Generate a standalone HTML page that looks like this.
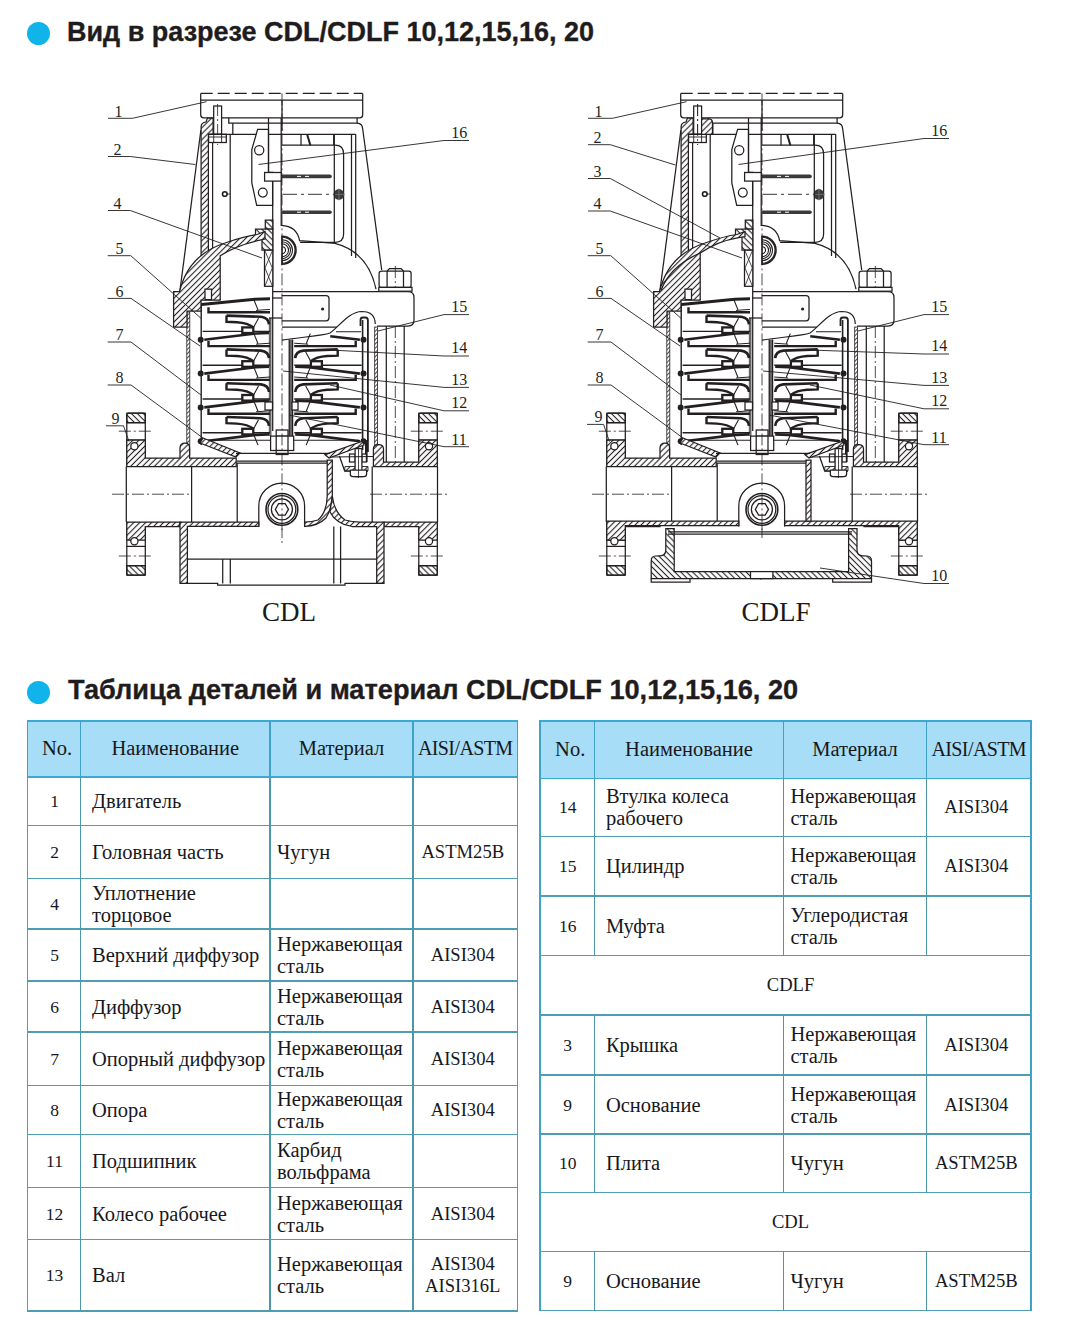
<!DOCTYPE html>
<html><head><meta charset="utf-8">
<style>
html,body{margin:0;padding:0}
body{width:1070px;height:1326px;background:#fff;position:relative;overflow:hidden}
.h{position:absolute;font-family:"Liberation Sans",sans-serif;font-weight:bold;font-size:28.5px;line-height:30px;color:#1f1c1d;white-space:nowrap;transform-origin:0 0;-webkit-text-stroke:0.35px #1f1c1d}
.dot{position:absolute;width:23.5px;height:23.5px;border-radius:50%;background:#10b3ea}
.hd{position:absolute;background:#a7ddf7}
.hl{position:absolute;height:1.4px;background:#4f9db5}
.hl.hb{height:1.7px;background:#3ba9d3}
.vl{position:absolute;width:1.25px;background:#4d97ad}
.vl.ob{background:#3fa3c8}
.c{position:absolute;display:flex;align-items:center;font-family:"Liberation Serif",serif;font-size:20.5px;line-height:22px;color:#17181c;box-sizing:border-box;white-space:nowrap}
.th{justify-content:center;padding-bottom:1.6px}
.th.aisi{letter-spacing:-0.6px;font-size:20px;padding-right:0}
.th.no{padding-left:6px}
.num{justify-content:center;font-size:17.5px;padding-left:1px}
.name{padding-left:11.5px}
.mat{padding-left:7px}
.aisi{justify-content:center;text-align:center;font-size:18.6px;padding-right:5px}
.span{justify-content:center;font-size:18.6px;padding-left:10px}
.cap{position:absolute;font-family:"Liberation Serif",serif;font-size:27px;line-height:30px;color:#1a1a1a}
svg{position:absolute;left:0;top:0}
</style></head><body>
<div class="dot" style="left:26.8px;top:21.7px"></div>
<div class="h" style="left:66.8px;top:15.5px;transform:scaleX(0.947)">Вид в разрезе CDL/CDLF 10,12,15,16, 20</div>
<div class="dot" style="left:26.8px;top:680.8px"></div>
<div class="h" style="left:68.3px;top:674px;transform:scaleX(0.953)">Таблица деталей и материал CDL/CDLF 10,12,15,16, 20</div>
<div class="cap" style="left:262px;top:597px">CDL</div>
<div class="cap" style="left:741.5px;top:597px">CDLF</div>
<div class="hd" style="left:27.5px;top:720.8px;width:490.0px;height:56.200000000000045px"></div>
<div class="hl hb" style="left:26.75px;top:720.05px;width:491.5px"></div>
<div class="hl hb" style="left:26.75px;top:776.25px;width:491.5px"></div>
<div class="hl" style="left:26.75px;top:824.75px;width:491.5px"></div>
<div class="hl" style="left:26.75px;top:877.75px;width:491.5px"></div>
<div class="hl" style="left:26.75px;top:928.25px;width:491.5px"></div>
<div class="hl" style="left:26.75px;top:980.25px;width:491.5px"></div>
<div class="hl" style="left:26.75px;top:1031.25px;width:491.5px"></div>
<div class="hl" style="left:26.75px;top:1084.75px;width:491.5px"></div>
<div class="hl" style="left:26.75px;top:1133.75px;width:491.5px"></div>
<div class="hl" style="left:26.75px;top:1186.75px;width:491.5px"></div>
<div class="hl" style="left:26.75px;top:1238.75px;width:491.5px"></div>
<div class="hl" style="left:26.75px;top:1310.25px;width:491.5px"></div>
<div class="vl ob" style="left:26.75px;top:720.05px;height:591.7px"></div>
<div class="vl ob" style="left:79.9px;top:720.8px;height:56.200000000000045px"></div>
<div class="vl" style="left:79.9px;top:777px;height:48.5px"></div>
<div class="vl" style="left:79.9px;top:825.5px;height:53.0px"></div>
<div class="vl" style="left:79.9px;top:878.5px;height:50.5px"></div>
<div class="vl" style="left:79.9px;top:929px;height:52px"></div>
<div class="vl" style="left:79.9px;top:981px;height:51px"></div>
<div class="vl" style="left:79.9px;top:1032px;height:53.5px"></div>
<div class="vl" style="left:79.9px;top:1085.5px;height:49.0px"></div>
<div class="vl" style="left:79.9px;top:1134.5px;height:53.0px"></div>
<div class="vl" style="left:79.9px;top:1187.5px;height:52.0px"></div>
<div class="vl" style="left:79.9px;top:1239.5px;height:71.5px"></div>
<div class="vl ob" style="left:269.4px;top:720.8px;height:56.200000000000045px"></div>
<div class="vl" style="left:269.4px;top:777px;height:48.5px"></div>
<div class="vl" style="left:269.4px;top:825.5px;height:53.0px"></div>
<div class="vl" style="left:269.4px;top:878.5px;height:50.5px"></div>
<div class="vl" style="left:269.4px;top:929px;height:52px"></div>
<div class="vl" style="left:269.4px;top:981px;height:51px"></div>
<div class="vl" style="left:269.4px;top:1032px;height:53.5px"></div>
<div class="vl" style="left:269.4px;top:1085.5px;height:49.0px"></div>
<div class="vl" style="left:269.4px;top:1134.5px;height:53.0px"></div>
<div class="vl" style="left:269.4px;top:1187.5px;height:52.0px"></div>
<div class="vl" style="left:269.4px;top:1239.5px;height:71.5px"></div>
<div class="vl ob" style="left:412.4px;top:720.8px;height:56.200000000000045px"></div>
<div class="vl" style="left:412.4px;top:777px;height:48.5px"></div>
<div class="vl" style="left:412.4px;top:825.5px;height:53.0px"></div>
<div class="vl" style="left:412.4px;top:878.5px;height:50.5px"></div>
<div class="vl" style="left:412.4px;top:929px;height:52px"></div>
<div class="vl" style="left:412.4px;top:981px;height:51px"></div>
<div class="vl" style="left:412.4px;top:1032px;height:53.5px"></div>
<div class="vl" style="left:412.4px;top:1085.5px;height:49.0px"></div>
<div class="vl" style="left:412.4px;top:1134.5px;height:53.0px"></div>
<div class="vl" style="left:412.4px;top:1187.5px;height:52.0px"></div>
<div class="vl" style="left:412.4px;top:1239.5px;height:71.5px"></div>
<div class="vl ob" style="left:516.75px;top:720.05px;height:591.7px"></div>
<div class="c th no" style="left:27.5px;top:720.8px;width:53.0px;height:56.200000000000045px">No.</div>
<div class="c th " style="left:80.5px;top:720.8px;width:189.5px;height:56.200000000000045px">Наименование</div>
<div class="c th " style="left:270px;top:720.8px;width:143px;height:56.200000000000045px">Материал</div>
<div class="c th aisi" style="left:413px;top:720.8px;width:104.5px;height:56.200000000000045px">AISI/ASTM</div>
<div class="c num" style="left:27.5px;top:777px;width:53.0px;height:48.5px">1</div>
<div class="c name" style="left:80.5px;top:777px;width:189.5px;height:48.5px">Двигатель</div>
<div class="c mat" style="left:270px;top:777px;width:143px;height:48.5px"></div>
<div class="c aisi" style="left:413px;top:777px;width:104.5px;height:48.5px"></div>
<div class="c num" style="left:27.5px;top:825.5px;width:53.0px;height:53.0px">2</div>
<div class="c name" style="left:80.5px;top:825.5px;width:189.5px;height:53.0px">Головная часть</div>
<div class="c mat" style="left:270px;top:825.5px;width:143px;height:53.0px">Чугун</div>
<div class="c aisi" style="left:413px;top:825.5px;width:104.5px;height:53.0px">ASTM25B</div>
<div class="c num" style="left:27.5px;top:878.5px;width:53.0px;height:50.5px">4</div>
<div class="c name" style="left:80.5px;top:878.5px;width:189.5px;height:50.5px">Уплотнение<br>торцовое</div>
<div class="c mat" style="left:270px;top:878.5px;width:143px;height:50.5px"></div>
<div class="c aisi" style="left:413px;top:878.5px;width:104.5px;height:50.5px"></div>
<div class="c num" style="left:27.5px;top:929px;width:53.0px;height:52px">5</div>
<div class="c name" style="left:80.5px;top:929px;width:189.5px;height:52px">Верхний диффузор</div>
<div class="c mat" style="left:270px;top:929px;width:143px;height:52px">Нержавеющая<br>сталь</div>
<div class="c aisi" style="left:413px;top:929px;width:104.5px;height:52px">AISI304</div>
<div class="c num" style="left:27.5px;top:981px;width:53.0px;height:51px">6</div>
<div class="c name" style="left:80.5px;top:981px;width:189.5px;height:51px">Диффузор</div>
<div class="c mat" style="left:270px;top:981px;width:143px;height:51px">Нержавеющая<br>сталь</div>
<div class="c aisi" style="left:413px;top:981px;width:104.5px;height:51px">AISI304</div>
<div class="c num" style="left:27.5px;top:1032px;width:53.0px;height:53.5px">7</div>
<div class="c name" style="left:80.5px;top:1032px;width:189.5px;height:53.5px">Опорный диффузор</div>
<div class="c mat" style="left:270px;top:1032px;width:143px;height:53.5px">Нержавеющая<br>сталь</div>
<div class="c aisi" style="left:413px;top:1032px;width:104.5px;height:53.5px">AISI304</div>
<div class="c num" style="left:27.5px;top:1085.5px;width:53.0px;height:49.0px">8</div>
<div class="c name" style="left:80.5px;top:1085.5px;width:189.5px;height:49.0px">Опора</div>
<div class="c mat" style="left:270px;top:1085.5px;width:143px;height:49.0px">Нержавеющая<br>сталь</div>
<div class="c aisi" style="left:413px;top:1085.5px;width:104.5px;height:49.0px">AISI304</div>
<div class="c num" style="left:27.5px;top:1134.5px;width:53.0px;height:53.0px">11</div>
<div class="c name" style="left:80.5px;top:1134.5px;width:189.5px;height:53.0px">Подшипник</div>
<div class="c mat" style="left:270px;top:1134.5px;width:143px;height:53.0px">Карбид<br>вольфрама</div>
<div class="c aisi" style="left:413px;top:1134.5px;width:104.5px;height:53.0px"></div>
<div class="c num" style="left:27.5px;top:1187.5px;width:53.0px;height:52.0px">12</div>
<div class="c name" style="left:80.5px;top:1187.5px;width:189.5px;height:52.0px">Колесо рабочее</div>
<div class="c mat" style="left:270px;top:1187.5px;width:143px;height:52.0px">Нержавеющая<br>сталь</div>
<div class="c aisi" style="left:413px;top:1187.5px;width:104.5px;height:52.0px">AISI304</div>
<div class="c num" style="left:27.5px;top:1239.5px;width:53.0px;height:71.5px">13</div>
<div class="c name" style="left:80.5px;top:1239.5px;width:189.5px;height:71.5px">Вал</div>
<div class="c mat" style="left:270px;top:1239.5px;width:143px;height:71.5px">Нержавеющая<br>сталь</div>
<div class="c aisi" style="left:413px;top:1239.5px;width:104.5px;height:71.5px">AISI304<br>AISI316L</div>
<div class="hd" style="left:540px;top:720.8px;width:491px;height:57.60000000000002px"></div>
<div class="hl hb" style="left:539.25px;top:720.05px;width:492.5px"></div>
<div class="hl hb" style="left:539.25px;top:777.65px;width:492.5px"></div>
<div class="hl" style="left:539.25px;top:835.75px;width:492.5px"></div>
<div class="hl" style="left:539.25px;top:895.25px;width:492.5px"></div>
<div class="hl" style="left:539.25px;top:954.75px;width:492.5px"></div>
<div class="hl" style="left:539.25px;top:1014.25px;width:492.5px"></div>
<div class="hl" style="left:539.25px;top:1074.25px;width:492.5px"></div>
<div class="hl" style="left:539.25px;top:1133.25px;width:492.5px"></div>
<div class="hl" style="left:539.25px;top:1191.75px;width:492.5px"></div>
<div class="hl" style="left:539.25px;top:1250.75px;width:492.5px"></div>
<div class="hl" style="left:539.25px;top:1309.75px;width:492.5px"></div>
<div class="vl ob" style="left:539.25px;top:720.05px;height:591.2px"></div>
<div class="vl ob" style="left:593.8px;top:720.8px;height:57.60000000000002px"></div>
<div class="vl" style="left:593.8px;top:778.4px;height:58.10000000000002px"></div>
<div class="vl" style="left:593.8px;top:836.5px;height:59.5px"></div>
<div class="vl" style="left:593.8px;top:896px;height:59.5px"></div>
<div class="vl" style="left:593.8px;top:1015px;height:60px"></div>
<div class="vl" style="left:593.8px;top:1075px;height:59px"></div>
<div class="vl" style="left:593.8px;top:1134px;height:58.5px"></div>
<div class="vl" style="left:593.8px;top:1251.5px;height:59.0px"></div>
<div class="vl ob" style="left:782.9px;top:720.8px;height:57.60000000000002px"></div>
<div class="vl" style="left:782.9px;top:778.4px;height:58.10000000000002px"></div>
<div class="vl" style="left:782.9px;top:836.5px;height:59.5px"></div>
<div class="vl" style="left:782.9px;top:896px;height:59.5px"></div>
<div class="vl" style="left:782.9px;top:1015px;height:60px"></div>
<div class="vl" style="left:782.9px;top:1075px;height:59px"></div>
<div class="vl" style="left:782.9px;top:1134px;height:58.5px"></div>
<div class="vl" style="left:782.9px;top:1251.5px;height:59.0px"></div>
<div class="vl ob" style="left:925.9px;top:720.8px;height:57.60000000000002px"></div>
<div class="vl" style="left:925.9px;top:778.4px;height:58.10000000000002px"></div>
<div class="vl" style="left:925.9px;top:836.5px;height:59.5px"></div>
<div class="vl" style="left:925.9px;top:896px;height:59.5px"></div>
<div class="vl" style="left:925.9px;top:1015px;height:60px"></div>
<div class="vl" style="left:925.9px;top:1075px;height:59px"></div>
<div class="vl" style="left:925.9px;top:1134px;height:58.5px"></div>
<div class="vl" style="left:925.9px;top:1251.5px;height:59.0px"></div>
<div class="vl ob" style="left:1030.25px;top:720.05px;height:591.2px"></div>
<div class="c th no" style="left:540px;top:720.8px;width:54.39999999999998px;height:57.60000000000002px">No.</div>
<div class="c th " style="left:594.4px;top:720.8px;width:189.10000000000002px;height:57.60000000000002px">Наименование</div>
<div class="c th " style="left:783.5px;top:720.8px;width:143.0px;height:57.60000000000002px">Материал</div>
<div class="c th aisi" style="left:926.5px;top:720.8px;width:104.5px;height:57.60000000000002px">AISI/ASTM</div>
<div class="c num" style="left:540px;top:778.4px;width:54.39999999999998px;height:58.10000000000002px">14</div>
<div class="c name" style="left:594.4px;top:778.4px;width:189.10000000000002px;height:58.10000000000002px">Втулка колеса<br>рабочего</div>
<div class="c mat" style="left:783.5px;top:778.4px;width:143.0px;height:58.10000000000002px">Нержавеющая<br>сталь</div>
<div class="c aisi" style="left:926.5px;top:778.4px;width:104.5px;height:58.10000000000002px">AISI304</div>
<div class="c num" style="left:540px;top:836.5px;width:54.39999999999998px;height:59.5px">15</div>
<div class="c name" style="left:594.4px;top:836.5px;width:189.10000000000002px;height:59.5px">Цилиндр</div>
<div class="c mat" style="left:783.5px;top:836.5px;width:143.0px;height:59.5px">Нержавеющая<br>сталь</div>
<div class="c aisi" style="left:926.5px;top:836.5px;width:104.5px;height:59.5px">AISI304</div>
<div class="c num" style="left:540px;top:896px;width:54.39999999999998px;height:59.5px">16</div>
<div class="c name" style="left:594.4px;top:896px;width:189.10000000000002px;height:59.5px">Муфта</div>
<div class="c mat" style="left:783.5px;top:896px;width:143.0px;height:59.5px">Углеродистая<br>сталь</div>
<div class="c aisi" style="left:926.5px;top:896px;width:104.5px;height:59.5px"></div>
<div class="c span" style="left:540px;top:955.5px;width:491px;height:59.5px">CDLF</div>
<div class="c num" style="left:540px;top:1015px;width:54.39999999999998px;height:60px">3</div>
<div class="c name" style="left:594.4px;top:1015px;width:189.10000000000002px;height:60px">Крышка</div>
<div class="c mat" style="left:783.5px;top:1015px;width:143.0px;height:60px">Нержавеющая<br>сталь</div>
<div class="c aisi" style="left:926.5px;top:1015px;width:104.5px;height:60px">AISI304</div>
<div class="c num" style="left:540px;top:1075px;width:54.39999999999998px;height:59px">9</div>
<div class="c name" style="left:594.4px;top:1075px;width:189.10000000000002px;height:59px">Основание</div>
<div class="c mat" style="left:783.5px;top:1075px;width:143.0px;height:59px">Нержавеющая<br>сталь</div>
<div class="c aisi" style="left:926.5px;top:1075px;width:104.5px;height:59px">AISI304</div>
<div class="c num" style="left:540px;top:1134px;width:54.39999999999998px;height:58.5px">10</div>
<div class="c name" style="left:594.4px;top:1134px;width:189.10000000000002px;height:58.5px">Плита</div>
<div class="c mat" style="left:783.5px;top:1134px;width:143.0px;height:58.5px">Чугун</div>
<div class="c aisi" style="left:926.5px;top:1134px;width:104.5px;height:58.5px">ASTM25B</div>
<div class="c span" style="left:540px;top:1192.5px;width:491px;height:59.0px">CDL</div>
<div class="c num" style="left:540px;top:1251.5px;width:54.39999999999998px;height:59.0px">9</div>
<div class="c name" style="left:594.4px;top:1251.5px;width:189.10000000000002px;height:59.0px">Основание</div>
<div class="c mat" style="left:783.5px;top:1251.5px;width:143.0px;height:59.0px">Чугун</div>
<div class="c aisi" style="left:926.5px;top:1251.5px;width:104.5px;height:59.0px">ASTM25B</div><svg width="1070" height="1326" viewBox="0 0 1070 1326"><style>
.dr path,.dr line,.dr rect,.dr circle{fill:none;stroke:#231f20;stroke-width:1.25}
.dr .w{fill:#fff}
.dr .f{fill:#231f20;stroke:none}
.dr .g{fill:#666;stroke:none}
.dr .nf{fill:none}
.dr .ht{fill:url(#hatch)}
.dr .ht2{fill:url(#hatch2);stroke-width:0.8}
.dr .ht3{fill:url(#hatchb)}
.dr .cl{stroke-dasharray:12,3,2,3;stroke-width:0.8}
.lb path{fill:none;stroke:#231f20;stroke-width:0.9}
.lb text{font-family:"Liberation Serif",serif;font-size:16px;fill:#231f20}
</style><defs>
<pattern id="hatch" patternUnits="userSpaceOnUse" width="4.2" height="4.2" patternTransform="rotate(45)"><rect width="4.2" height="4.2" fill="#fff"/><line x1="2.1" y1="0" x2="2.1" y2="4.2" stroke="#231f20" style="stroke-width:1.1"/></pattern>
<pattern id="hatch2" patternUnits="userSpaceOnUse" width="3" height="3" patternTransform="rotate(45)"><rect width="3" height="3" fill="#fff"/><line x1="1.5" y1="0" x2="1.5" y2="3" stroke="#231f20" style="stroke-width:0.8"/></pattern>
<pattern id="hatchb" patternUnits="userSpaceOnUse" width="4.2" height="4.2" patternTransform="rotate(-45)"><rect width="4.2" height="4.2" fill="#fff"/><line x1="2.1" y1="0" x2="2.1" y2="4.2" stroke="#231f20" style="stroke-width:1.1"/></pattern>
<g id="pumpup" class="dr"><path d="M200.7,93.4 V114.7 Q200.7,117.8 203.8,117.8 H359.6 Q362.7,117.8 362.7,114.7 V93.4"/><line x1="200.7" y1="93.4" x2="362.7" y2="93.4" stroke-dasharray="12,5"/><line x1="200.7" y1="100.1" x2="362.7" y2="100.1" style="stroke-width:1.4"/><line x1="282" y1="100.1" x2="282" y2="131"/><path d="M221.6,117.8 V118.1 M228.8,117.8 V123.2 H357.1 V117.8"/><path d="M357.1,123.2 Q362.5,123.5 362.7,129"/><line x1="200.9" y1="130" x2="179.8" y2="291.7"/><line x1="362.7" y1="129" x2="381.7" y2="270"/><path class="ht" d="M201.1,127 Q201.1,122.5 206,122 L207.5,118 H213.1 V134.3 H208.4 V253 L201.1,256 Z"/><line x1="212.6" y1="142.5" x2="212.6" y2="255"/><line x1="230.2" y1="134.3" x2="230.2" y2="247"/><line x1="232.8" y1="123.2" x2="232.8" y2="134.3"/><rect x="213.7" y="106" width="7.9" height="28.3" class="w"/><line class="cl" x1="217.6" y1="104" x2="217.6" y2="145"/><rect x="208.6" y="134.3" width="17.7" height="8.2" class="w"/><path d="M213.7,134.3 V142.5 M221.6,134.3 V142.5 M208.6,137 H226.3" style="stroke-width:0.9"/><line x1="208.6" y1="134.3" x2="355.7" y2="134.3"/><line x1="351.5" y1="134.3" x2="351.5" y2="256"/><line x1="355.7" y1="134.3" x2="355.7" y2="258"/><circle cx="224.8" cy="194" r="2.3" style="stroke-width:1.6"/><path d="M227,194 H230" style="stroke-width:0.8"/><path class="w" d="M257.6,129.4 H268.5 V172.3 H272.6 V205.4 H256.7 L251.8,183 V149.6 Z"/><circle cx="259.2" cy="150.3" r="4.6" class="w"/><circle cx="262.8" cy="192.6" r="4.4" class="w"/><line x1="268.5" y1="118" x2="268.5" y2="172.3"/><line x1="281.2" y1="118" x2="281.2" y2="226"/><line x1="272.7" y1="181" x2="272.7" y2="431"/><rect x="264.6" y="172.5" width="16.6" height="8.6" class="w"/><path d="M282,145.2 H335 Q343.6,145.2 343.6,154 V234 Q343.6,242.3 335,242.3 H300"/><line x1="307.1" y1="134.3" x2="310.4" y2="145.2" style="stroke-width:2"/><line x1="301" y1="134.3" x2="301" y2="145.2"/><line x1="333.7" y1="134.3" x2="333.7" y2="145.2"/><line x1="283" y1="176.4" x2="330" y2="176.4" style="stroke-width:3.6;stroke-linecap:round;stroke:#3a3a3a"/><line x1="283" y1="212.2" x2="330" y2="212.2" style="stroke-width:3.6;stroke-linecap:round;stroke:#3a3a3a"/><path d="M297,176.4 H301 M305,176.4 H309 M297,212.2 H301 M305,212.2 H309" style="stroke:#fff;stroke-width:1"/><line x1="283" y1="194.3" x2="335" y2="194.3" stroke-dasharray="14,4,3,4" style="stroke-width:0.9"/><circle cx="338.9" cy="194.4" r="5.3" style="fill:#3a3a3a;stroke:none"/><path d="M333,194.4 H344.8 M338.9,188.5 V200.3" style="stroke:#777;stroke-width:0.8"/><line x1="334.3" y1="134.3" x2="334.3" y2="243.5"/><path class="ht3" d="M265.3,220 H272.8 V229 H265.3 Z"/><path class="ht3" d="M255.5,229 H272.8 V250.2 H262 V236 H255.5 Z"/><rect x="264.5" y="250.2" width="8.3" height="36.1" class="w"/><path d="M265,251 L272.3,268 L265,285.8 M272.3,251 L265,268 L272.3,285.8" style="stroke-width:0.8"/><path d="M281.3,225.3 Q297,226 299.6,240.7 L335.5,243.4"/><path class="w" d="M282,236.2 A14,14 0 0 1 282,264.2 Z" style="stroke-width:1.6"/><path d="M282,237.2 A13,13 0 0 1 282,263.2 M282,239.7 A10.5,10.5 0 0 1 282,260.7 M282,241.7 A8.5,8.5 0 0 1 282,258.7 M282,243.7 A6.5,6.5 0 0 1 282,256.7 M282,246.7 A3.5,3.5 0 0 1 282,253.7" style="stroke-width:1.1"/><path d="M335,243.4 Q368,252 376,289"/><line x1="272.8" y1="291.5" x2="378" y2="291.5"/><path d="M378,291.5 H408 Q414,291.5 414,297.5 V320 Q414,326 408,326 H377"/><path class="w" d="M381.5,271 H387.1 L389.5,268.5 H401 L403.5,271 H409 Q411.1,271 411.1,273.5 V285.5 Q411.1,287.4 409,287.4 H381.5 Q379.1,287.4 379.1,285.5 V273.5 Q379.1,271 381.5,271 Z"/><path d="M387.1,271 V287.4 M403.5,271 V287.4 M387.1,271 H403.5"/><line class="cl" x1="395.3" y1="266" x2="395.3" y2="291"/><rect x="378.8" y="287.4" width="33.2" height="3.8" class="w"/><path class="w" d="M281.8,295.5 H326 Q329,295.5 329,298.5 V317.8 Q329,320.8 326,320.8 H281.8"/><circle cx="322.6" cy="309" r="1.6" class="f"/><line x1="272" y1="298" x2="282" y2="298"/><rect x="186.8" y="312" width="3" height="143" class="ht2"/><rect x="374.7" y="327" width="2.8" height="128" class="ht2"/><line x1="201.2" y1="303" x2="201.2" y2="445" style="stroke-width:1.4"/><path d="M360.5,326 V320 Q360.5,317.5 363,317.5 H365.5 Q367.9,317.5 367.9,320.5 V452" style="stroke-width:1.8"/><line x1="362.6" y1="320" x2="362.6" y2="450" style="stroke-width:1.6"/><path d="M282,340.2 C300,337 322,336 330,333 C340,326 348,312 362,311.5 C371,311.5 375,316 375.3,324" style="stroke-width:1.2"/><rect x="268.8" y="318" width="2.7" height="118" class="g"/><rect x="289.2" y="339.5" width="3.4" height="96.5" class="g"/><line x1="289.2" y1="339.5" x2="289.2" y2="436"/><line x1="292.6" y1="339.5" x2="292.6" y2="436"/><rect x="265" y="402" width="7.5" height="8" class="w"/><rect x="292" y="402" width="6" height="8" class="w"/><g><path d="M201.4,304.5 L255,299.2 L270,298.8" style="stroke-width:3"/><path d="M208.5,307.2 V312.3 H270" style="stroke-width:2.4"/><path d="M256,310.4 L270,309.4" style="stroke-width:1"/><path d="M253.9,299.8 L258,309.9" style="stroke-width:1.1"/><path d="M204.3,339.8 L255.6,333.5 L269,333.0" style="stroke-width:2.6"/><circle cx="200.7" cy="339.8" r="3" class="f"/><path d="M208.5,341.0 V346.1 H270" style="stroke-width:2.4"/><path d="M256,344.2 L270,343.2" style="stroke-width:1"/><path d="M253.9,333.6 L258,343.7" style="stroke-width:1.1"/><path d="M202.6,331.40000000000003 H242 M254,331.40000000000003 H270" style="stroke-width:1.4"/><rect x="242.3" y="327.40000000000003" width="11" height="5.6" class="w" style="stroke-width:2.3"/><path d="M226.5,315.6 L261,316.8 Q268.6,317.8 269,324.40000000000003" style="stroke-width:2.6"/><path d="M226.5,315.6 V321.8 L237,322.2 Q248,323.0 253.5,327.40000000000003" style="stroke-width:2.4"/><path d="M258.5,318.3 L253.9,326.8" style="stroke-width:1.1"/><path d="M204.3,373.6 L255.6,367.3 L269,366.8" style="stroke-width:2.6"/><circle cx="200.7" cy="373.6" r="3" class="f"/><path d="M208.5,374.8 V379.90000000000003 H270" style="stroke-width:2.4"/><path d="M256,378.0 L270,377.0" style="stroke-width:1"/><path d="M253.9,367.40000000000003 L258,377.5" style="stroke-width:1.1"/><path d="M202.6,365.20000000000005 H242 M254,365.20000000000005 H270" style="stroke-width:1.4"/><rect x="242.3" y="361.20000000000005" width="11" height="5.6" class="w" style="stroke-width:2.3"/><path d="M226.5,349.40000000000003 L261,350.6 Q268.6,351.6 269,358.20000000000005" style="stroke-width:2.6"/><path d="M226.5,349.40000000000003 V355.6 L237,356.0 Q248,356.8 253.5,361.20000000000005" style="stroke-width:2.4"/><path d="M258.5,352.1 L253.9,360.6" style="stroke-width:1.1"/><path d="M204.3,407.4 L255.6,401.09999999999997 L269,400.59999999999997" style="stroke-width:2.6"/><circle cx="200.7" cy="407.4" r="3" class="f"/><path d="M208.5,408.59999999999997 V413.7 H270" style="stroke-width:2.4"/><path d="M256,411.79999999999995 L270,410.79999999999995" style="stroke-width:1"/><path d="M253.9,401.2 L258,411.29999999999995" style="stroke-width:1.1"/><path d="M202.6,399.0 H242 M254,399.0 H270" style="stroke-width:1.4"/><rect x="242.3" y="395.0" width="11" height="5.6" class="w" style="stroke-width:2.3"/><path d="M226.5,383.2 L261,384.4 Q268.6,385.4 269,392.0" style="stroke-width:2.6"/><path d="M226.5,383.2 V389.4 L237,389.79999999999995 Q248,390.59999999999997 253.5,395.0" style="stroke-width:2.4"/><path d="M258.5,385.9 L253.9,394.4" style="stroke-width:1.1"/><path d="M204.3,441.2 L255.6,434.9 L269,434.4" style="stroke-width:2.6"/><circle cx="200.7" cy="441.2" r="3" class="f"/><path d="M253.9,435.0 L258,445.09999999999997" style="stroke-width:1.1"/><path d="M202.6,432.8 H242 M254,432.8 H270" style="stroke-width:1.4"/><rect x="242.3" y="428.8" width="11" height="5.6" class="w" style="stroke-width:2.3"/><path d="M226.5,417.0 L261,418.2 Q268.6,419.2 269,425.8" style="stroke-width:2.6"/><path d="M226.5,417.0 V423.2 L237,423.59999999999997 Q248,424.4 253.5,428.8" style="stroke-width:2.4"/><path d="M258.5,419.7 L253.9,428.2" style="stroke-width:1.1"/></g><g transform="translate(564.2,0) scale(-1,1)"><path d="M204.3,339.8 L234,336.2" style="stroke-width:2.6"/><circle cx="200.7" cy="339.8" r="3" class="f"/><path d="M208.5,341.0 V346.1 H270" style="stroke-width:2.4"/><path d="M256,344.2 L270,343.2" style="stroke-width:1"/><path d="M253.9,333.6 L258,343.7" style="stroke-width:1.1"/><path d="M204.3,373.6 L255.6,367.3 L269,366.8" style="stroke-width:2.6"/><circle cx="200.7" cy="373.6" r="3" class="f"/><path d="M208.5,374.8 V379.90000000000003 H270" style="stroke-width:2.4"/><path d="M256,378.0 L270,377.0" style="stroke-width:1"/><path d="M253.9,367.40000000000003 L258,377.5" style="stroke-width:1.1"/><path d="M202.6,365.20000000000005 H242 M254,365.20000000000005 H270" style="stroke-width:1.4"/><rect x="242.3" y="361.20000000000005" width="11" height="5.6" class="w" style="stroke-width:2.3"/><path d="M226.5,349.40000000000003 L261,350.6 Q268.6,351.6 269,358.20000000000005" style="stroke-width:2.6"/><path d="M226.5,349.40000000000003 V355.6 L237,356.0 Q248,356.8 253.5,361.20000000000005" style="stroke-width:2.4"/><path d="M258.5,352.1 L253.9,360.6" style="stroke-width:1.1"/><path d="M204.3,407.4 L255.6,401.09999999999997 L269,400.59999999999997" style="stroke-width:2.6"/><circle cx="200.7" cy="407.4" r="3" class="f"/><path d="M208.5,408.59999999999997 V413.7 H270" style="stroke-width:2.4"/><path d="M256,411.79999999999995 L270,410.79999999999995" style="stroke-width:1"/><path d="M253.9,401.2 L258,411.29999999999995" style="stroke-width:1.1"/><path d="M202.6,399.0 H242 M254,399.0 H270" style="stroke-width:1.4"/><rect x="242.3" y="395.0" width="11" height="5.6" class="w" style="stroke-width:2.3"/><path d="M226.5,383.2 L261,384.4 Q268.6,385.4 269,392.0" style="stroke-width:2.6"/><path d="M226.5,383.2 V389.4 L237,389.79999999999995 Q248,390.59999999999997 253.5,395.0" style="stroke-width:2.4"/><path d="M258.5,385.9 L253.9,394.4" style="stroke-width:1.1"/><path d="M204.3,441.2 L255.6,434.9 L269,434.4" style="stroke-width:2.6"/><circle cx="200.7" cy="441.2" r="3" class="f"/><path d="M253.9,435.0 L258,445.09999999999997" style="stroke-width:1.1"/><path d="M202.6,432.8 H242 M254,432.8 H270" style="stroke-width:1.4"/><rect x="242.3" y="428.8" width="11" height="5.6" class="w" style="stroke-width:2.3"/><path d="M226.5,417.0 L261,418.2 Q268.6,419.2 269,425.8" style="stroke-width:2.6"/><path d="M226.5,417.0 V423.2 L237,423.59999999999997 Q248,424.4 253.5,428.8" style="stroke-width:2.4"/><path d="M258.5,419.7 L253.9,428.2" style="stroke-width:1.1"/></g><line x1="269" y1="318" x2="282" y2="318"/><path d="M282,327.1 H337 M336,331.8 H361" style="stroke-width:1.1"/><rect x="276.2" y="430" width="11.8" height="6.1" class="w"/><rect x="270.6" y="436.1" width="23.1" height="14.4" class="w"/><path d="M276.2,436.1 V450.5 M288,436.1 V450.5"/><rect x="276.2" y="450.5" width="11.8" height="4" class="w"/><line x1="205" y1="440.2" x2="270.6" y2="440.2" style="stroke-width:1.1"/><line x1="293.7" y1="440.2" x2="359" y2="440.2" style="stroke-width:1.1"/><path class="ht" d="M203,438 L240,453 L236,457 L200,443 Z"/><path class="ht" d="M325,454.7 L362.4,441.2 L364,445 L329,458 Z"/><line x1="236" y1="453.4" x2="330" y2="453.4"/><line x1="237" y1="461" x2="328" y2="461"/><line x1="237" y1="463.1" x2="328" y2="463.1"/><rect x="365" y="440" width="2.6" height="22" class="f"/><path class="ht" d="M345,466.5 H368 V471 H344.7 Z" style="stroke-width:0.9"/><path d="M339.4,456 L344.7,471 H368"/><rect class="w" x="349.5" y="454" width="5.6" height="8"/><rect class="w" x="361.9" y="454" width="4.5" height="8"/><rect class="w" x="355.1" y="448.6" width="6.8" height="28"/><path class="w" d="M350.3,470 H366.6 V474 Q366.6,476.6 364,476.6 H353 Q350.3,476.6 350.3,474 Z"/><path d="M358.5,447 V478" style="stroke-width:0.8"/><line x1="386.3" y1="326" x2="386.3" y2="462"/><line x1="404.2" y1="326" x2="404.2" y2="462"/><line class="cl" x1="395.3" y1="326" x2="395.3" y2="462"/><line class="cl" x1="282" y1="93.4" x2="282" y2="530"/><rect x="126.8" y="413.2" width="18.5" height="9.5" class="ht3"/><path d="M126.8,466.5 V415.2 Q126.8,413.2 128.8,413.2 H143.3 Q145.3,413.2 145.3,415.2 V466.5"/><line x1="126.8" y1="422.7" x2="145.3" y2="422.7"/><line x1="126.8" y1="440" x2="145.3" y2="440"/><line class="cl" x1="118.8" y1="431.2" x2="152.8" y2="431.2"/><rect x="126.8" y="565.7" width="18.5" height="9.5" class="ht3"/><path d="M126.8,522 V573 Q126.8,575.2 128.8,575.2 H143.3 Q145.3,575.2 145.3,573 V522"/><line x1="126.8" y1="546.4" x2="145.3" y2="546.4"/><line x1="126.8" y1="565.7" x2="145.3" y2="565.7"/><line class="cl" x1="118.8" y1="556" x2="152.8" y2="556"/><rect x="418.8" y="413.2" width="18.5" height="9.5" class="ht3"/><path d="M418.8,466.5 V415.2 Q418.8,413.2 420.8,413.2 H435.3 Q437.3,413.2 437.3,415.2 V466.5"/><line x1="418.8" y1="422.7" x2="437.3" y2="422.7"/><line x1="418.8" y1="440" x2="437.3" y2="440"/><line class="cl" x1="410.8" y1="431.2" x2="444.8" y2="431.2"/><rect x="418.8" y="565.7" width="18.5" height="9.5" class="ht3"/><path d="M418.8,522 V573 Q418.8,575.2 420.8,575.2 H435.3 Q437.3,575.2 437.3,573 V522"/><line x1="418.8" y1="546.4" x2="437.3" y2="546.4"/><line x1="418.8" y1="565.7" x2="437.3" y2="565.7"/><line class="cl" x1="410.8" y1="556" x2="444.8" y2="556"/><path class="ht" d="M126.8,440 H145.3 V458 H180 V448 Q180,443 185,443 Q189.6,443 189.6,448 V458 H236.2 V466.5 H126.8 Z"/><path class="ht" d="M437.3,440 H418.8 V462.2 H383.5 V449 Q383.5,444.6 378.5,444.6 Q373.4,444.6 373.4,449 V466.5 H437.3 Z"/><line x1="126.3" y1="466.5" x2="126.3" y2="522"/><line x1="437.5" y1="466.5" x2="437.5" y2="522"/><line x1="331.6" y1="457" x2="373.4" y2="456.5"/><line x1="191.6" y1="466.5" x2="191.6" y2="522"/><line x1="237.2" y1="463" x2="237.2" y2="522"/><line x1="372.2" y1="466.5" x2="372.2" y2="522"/><line class="cl" x1="112" y1="494.2" x2="192" y2="494.2"/><line class="cl" x1="370" y1="494.2" x2="450" y2="494.2"/><path class="ht" d="M126.8,522 H180 V526.5 H145.3 V540 H126.8 Z"/><path class="ht" d="M437.3,522 H384 V526.5 H418.8 V540 H437.3 Z"/><path d="M258.8,526.4 V506 A22.9,22.9 0 0 1 304.6,506 V526.4"/><circle cx="281.9" cy="509.4" r="15.9" style="stroke-width:1.6"/><circle cx="281.9" cy="509.4" r="13.9"/><circle cx="281.9" cy="509.4" r="10.5"/><path d="M288.5,509.4 L285.2,503.7 H278.6 L275.3,509.4 L278.6,515.1 H285.2 Z"/></g>
</defs><use href="#pumpup"/><use href="#pumpup" x="480"/><g class="dr"><path class="ht" d="M180,522 H258.8 V526.4 H187.4 V583.4 H180 Z"/><path class="ht" d="M304.6,526.4 Q318,526 326,518 Q332,508 332.3,496 V460 H327.2 V496 Q327,512 318,520 Q312,522 304.6,522 Z"/><path class="ht" d="M332.3,496 Q334,512 345,520 Q352,522 360,522 H384 V583.4 H376.7 V526.5 H352 Q336,524 330,512 Z"/><path d="M187.4,583.4 H217.7 V585 H345 V583.4 H384"/><line x1="187.4" y1="559" x2="376.7" y2="559"/><path d="M222.7,559 V583.4 M230.3,559 V583.4 M333.8,526.5 V583.4 M340.6,526.5 V583.4"/><line class="cl" x1="282" y1="526" x2="282" y2="545"/><path class="ht" d="M173.6,291.7 H179.6 Q188,255 225,243 Q245,236 257,234.5 L265,231.5 V239 L257.5,240.7 Q235,246 220.2,255.8 V300 H201 V311 H187 V327 H173.6 Z"/><path class="w" d="M205,289 H211.5 V299.6 H205 Z"/></g><g class="dr" transform="translate(480,0)"><path class="ht" d="M126.8,521 H258.8 V525.5 H145.3 V540 H126.8 Z"/><path class="ht" d="M304.6,521 H437.3 V540 H418.8 V525.5 H304.6 Z"/><path class="ht" d="M326,460 H331 V521 H326 Z"/><path class="ht3" d="M185.8,528.5 V550 Q185.8,555.5 180,555.8 L175.5,556 Q171.2,556.3 171.2,561 V578.6 H391.5 V561 Q391.5,556.3 387,556 L382.6,555.8 Q377,555.5 377,550 V528.5 H368.6 V571.6 H194.2 V528.5 Z"/><rect x="270.5" y="571.6" width="22.4" height="7" class="w"/><path d="M188,531.8 H372 M188,534.1 H372"/><path d="M171.2,578.6 V582.2 H210 V578.6 M280.7,578.6 V579.5 M352.7,578.6 V582.2 H391.5 V578.6"/><line class="cl" x1="282" y1="526" x2="282" y2="540"/><path class="ht" d="M173.6,291.7 H179.6 Q188,255 225,243 Q245,236 257,234.5 L265,231.5 V236.5 L257.5,237.8 Q238,241 220.2,253 V300 H201 V311 H187 V327 H173.6 Z"/><path d="M181,290.5 Q190,266 220.2,253"/><path class="w" d="M205,289 H211.5 V299.6 H205 Z"/><path class="ht" d="M221.6,118.8 H229 Q232.5,119 232.5,123 V134.3 H221.6 Z"/><line x1="217.6" y1="104" x2="217.6" y2="145" class="cl"/></g><g class="dr"><circle cx="134.4" cy="446.3" r="3.6" class="w"/><circle cx="134.4" cy="541.3" r="3.6" class="w"/><circle cx="429" cy="446.3" r="3.6" class="w"/><circle cx="429" cy="541.3" r="3.6" class="w"/></g><g class="dr" transform="translate(480,0)"><circle cx="134.4" cy="446.3" r="3.6" class="w"/><circle cx="134.4" cy="541.3" r="3.6" class="w"/><circle cx="429" cy="446.3" r="3.6" class="w"/><circle cx="429" cy="541.3" r="3.6" class="w"/></g><g class="lb"><text x="114.5" y="116.8">1</text><path d="M108,118.3 H132.5 M132.5,118.3 L206.5,101.7"/><text x="113.5" y="154.8">2</text><path d="M108,156.5 H130.3 M130.3,156.5 L195.3,164.5"/><text x="113.5" y="208.8">4</text><path d="M108,210.5 H130.3 M130.3,210.5 L262,258"/><text x="115.4" y="253.9">5</text><path d="M107.7,255.7 H130.8 M130.8,255.7 L201,318.3"/><text x="115.4" y="296.7">6</text><path d="M107.7,298.4 H131 M131,298.4 L200,346"/><text x="115.4" y="340.3">7</text><path d="M107.7,342 H131 M131,342 L201,395"/><text x="115.4" y="383.3">8</text><path d="M107.7,385 H131 M131,385 L203,438"/><text x="111.5" y="423.5">9</text><path d="M106,425.8 H123.5 L129,441.5"/><text x="451.3" y="138.3">16</text><path d="M444,140.5 H469 M444,140.5 L258.5,164.5"/><text x="451.3" y="312.0">15</text><path d="M444,314.6 H469 M444,314.6 L378,331"/><text x="451.3" y="353.0">14</text><path d="M444,356 H469 M444,356 L330,350"/><text x="451.3" y="385.0">13</text><path d="M444,387.4 H469 M444,387.4 L283,371"/><text x="451.3" y="408.1">12</text><path d="M444,410.8 H469 M444,410.8 L330,385"/><text x="451.3" y="444.6">11</text><path d="M444,446.7 H469 M444,446.7 L289,415"/><text x="594.5" y="116.8">1</text><path d="M588,118.3 H612.5 M612.5,118.3 L686.5,101.7"/><text x="593.5" y="143.0">2</text><path d="M588,144.7 H610.3 M610.3,144.7 L675.3,165"/><text x="593.5" y="176.8">3</text><path d="M588,178.5 H610.3 M610.3,178.5 L720,238"/><text x="593.5" y="209.3">4</text><path d="M588,211 H610.3 M610.3,211 L742,258"/><text x="595.4" y="253.9">5</text><path d="M587.7,255.7 H610.8 M610.8,255.7 L681,318.3"/><text x="595.4" y="296.7">6</text><path d="M587.7,298.4 H611 M611,298.4 L680,346"/><text x="595.4" y="340.3">7</text><path d="M587.7,342 H611 M611,342 L681,395"/><text x="595.4" y="383.3">8</text><path d="M587.7,385 H611 M611,385 L683,438"/><text x="594.5" y="421.8">9</text><path d="M587,424.4 H603.6 L609.4,441.6"/><text x="931.3" y="136.3">16</text><path d="M924,138.5 H949 M924,138.5 L738.5,164.5"/><text x="931.3" y="312.0">15</text><path d="M924,314.6 H949 M924,314.6 L858,331"/><text x="931.3" y="351.0">14</text><path d="M924,354 H949 M924,354 L810,350"/><text x="931.3" y="383.0">13</text><path d="M924,385.4 H949 M924,385.4 L763,371"/><text x="931.3" y="406.1">12</text><path d="M924,408.8 H949 M924,408.8 L810,385"/><text x="931.3" y="442.6">11</text><path d="M924,444.7 H949 M924,444.7 L769,415"/><text x="931.3" y="580.8">10</text><path d="M924,583.5 H949 M924,583.5 L820,568"/></g></svg></body></html>
